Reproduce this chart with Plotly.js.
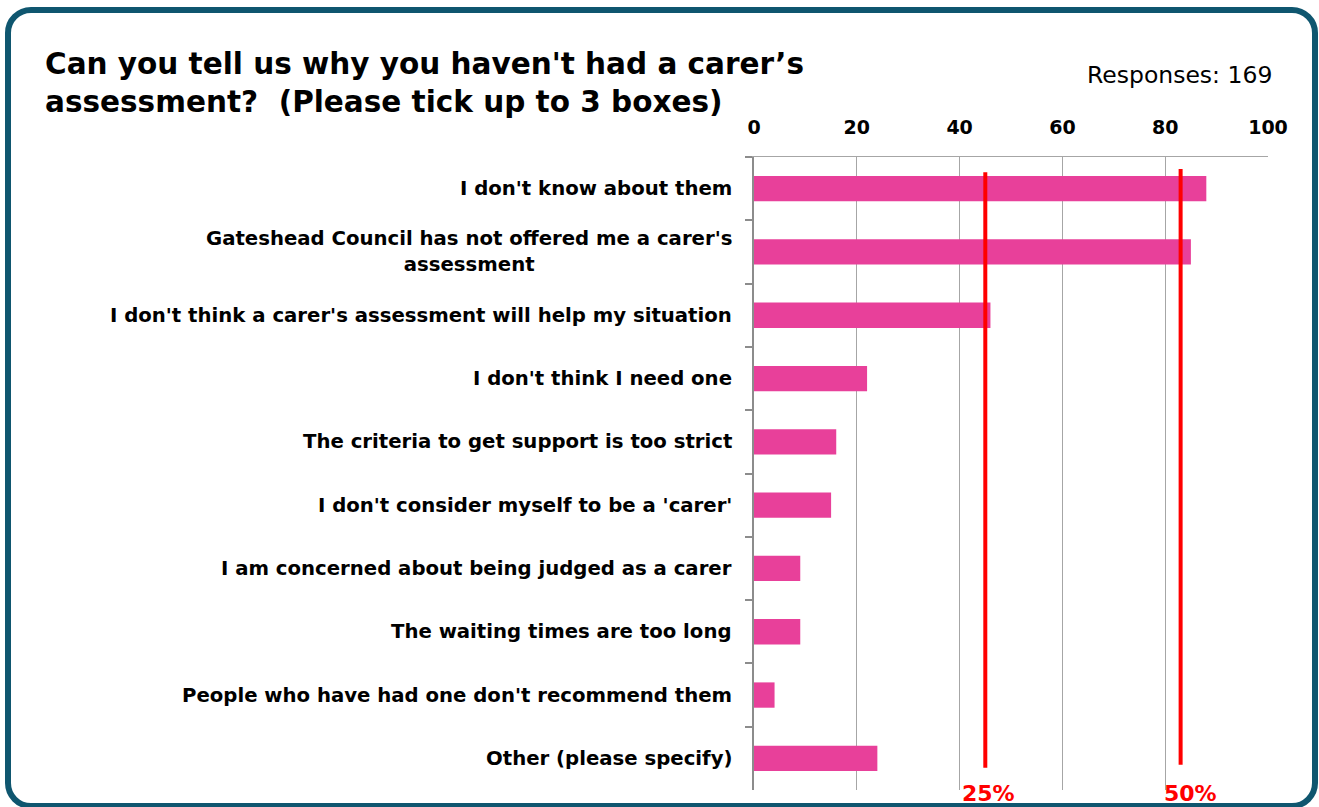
<!DOCTYPE html>
<html>
<head>
<meta charset="utf-8">
<script src="https://cdn.plot.ly/plotly-3.0.1.min.js"></script>
<style>
  html, body { margin: 0; padding: 0; background: #ffffff; }
  #wrap { position: relative; width: 1319px; height: 807px; overflow: hidden; }
  #chart { position: absolute; left: 0; top: 0; width: 1319px; height: 807px; }
  #frame { position: absolute; left: 5px; top: 7px; width: 1301px; height: 790px;
           border: 6px solid #0f566f; border-radius: 26px; pointer-events: none; }
</style>
</head>
<body>
<div id="wrap">
  <div id="chart"></div>
  <div id="frame"></div>
</div>
<script>
// ---- data ----
var categories = [
  "I don't know about them",
  "Gateshead Council has not offered me a carer's<br>assessment",
  "I don't think a carer's assessment will help my situation",
  "I don't think I need one",
  "The criteria to get support is too strict",
  "I don't consider myself to be a 'carer'",
  "I am concerned about being judged as a carer",
  "The waiting times are too long",
  "People who have had one don't recommend them",
  "Other (please specify)"
];
var responses = [88, 85, 46, 22, 16, 15, 9, 9, 4, 24];
var tickValues = [0, 20, 40, 60, 80, 100];
var tickLabels = ["0", "20", "40", "60", "80", "100"];
var refLineValues = [45, 83];
var refLineLabels = ["25%", "50%"];
var totalResponses = 169;

var FAMILY = "DejaVu Sans, Verdana, sans-serif";
var labelFont = { family: FAMILY, size: 19.7, color: "#000000", weight: "bold" };
var refLabelShift = [3, 10];

var trace = {
  type: "bar",
  orientation: "h",
  y: categories,
  x: responses,
  width: 0.4,
  marker: { color: "#e8409a", line: { width: 0 } },
  hoverinfo: "x+y"
};

var annotations = categories.map(function (c) {
  return {
    xref: "paper", yref: "y", x: 0, y: c,
    xanchor: "right", yanchor: "middle", xshift: -20,
    align: "center", showarrow: false,
    text: c, font: labelFont
  };
});

refLineLabels.forEach(function (t, i) {
  annotations.push({
    xref: "x", yref: "paper", x: refLineValues[i], y: -0.006, xshift: refLabelShift[i],
    xanchor: "center", yanchor: "middle", showarrow: false,
    text: t,
    font: { family: FAMILY, size: 22, color: "#ff0000", weight: "bold" }
  });
});

annotations.push({
  xref: "paper", yref: "paper", x: 1.0, y: 1.0, yshift: 82, xshift: 6,
  xanchor: "right", yanchor: "middle", showarrow: false,
  text: "Responses: " + totalResponses,
  font: { family: FAMILY, size: 23.5, color: "#000000" }
});

var shapes = refLineValues.map(function (v, i) {
  return {
    type: "line", xref: "x", yref: "paper",
    x0: v, x1: v, y0: i === 0 ? 0.035 : 0.04, y1: i === 0 ? 0.976 : 0.981,
    line: { color: "#ff0000", width: 4 }, layer: "above"
  };
});

var layout = {
  width: 1319, height: 807,
  margin: { l: 754, r: 51, t: 157, b: 17, pad: 0 },
  paper_bgcolor: "rgba(0,0,0,0)",
  plot_bgcolor: "rgba(0,0,0,0)",
  showlegend: false,
  bargap: 0.6,
  title: {
    text: "Can you tell us why you haven't had a carer’s<br>assessment?  (Please tick up to 3 boxes)",
    x: 45 / 1319, xanchor: "left", xref: "container",
    y: 1 - 74 / 807, yanchor: "top", yref: "container",
    font: { family: FAMILY, size: 29.5, color: "#000000", weight: "bold" }
  },
  xaxis: {
    side: "top",
    range: [0, 100],
    tickvals: tickValues,
    ticktext: tickLabels,
    showgrid: true, gridcolor: "#a6a6a6", gridwidth: 1,
    showline: true, linecolor: "#a6a6a6", linewidth: 1,
    ticks: "", ticklabelstandoff: 14,
    zeroline: false,
    tickfont: { family: FAMILY, size: 19, color: "#000000", weight: "bold" },
    fixedrange: true
  },
  yaxis: {
    type: "category",
    autorange: "reversed",
    showticklabels: false,
    showgrid: false,
    showline: true, linecolor: "#8c8c8c", linewidth: 2,
    ticks: "outside", tickson: "boundaries", ticklen: 7, tickcolor: "#8c8c8c", tickwidth: 2,
    zeroline: false,
    fixedrange: true
  },
  annotations: annotations,
  shapes: shapes
};

Plotly.newPlot("chart", [trace], layout, { displayModeBar: false, staticPlot: true });
</script>
</body>
</html>
